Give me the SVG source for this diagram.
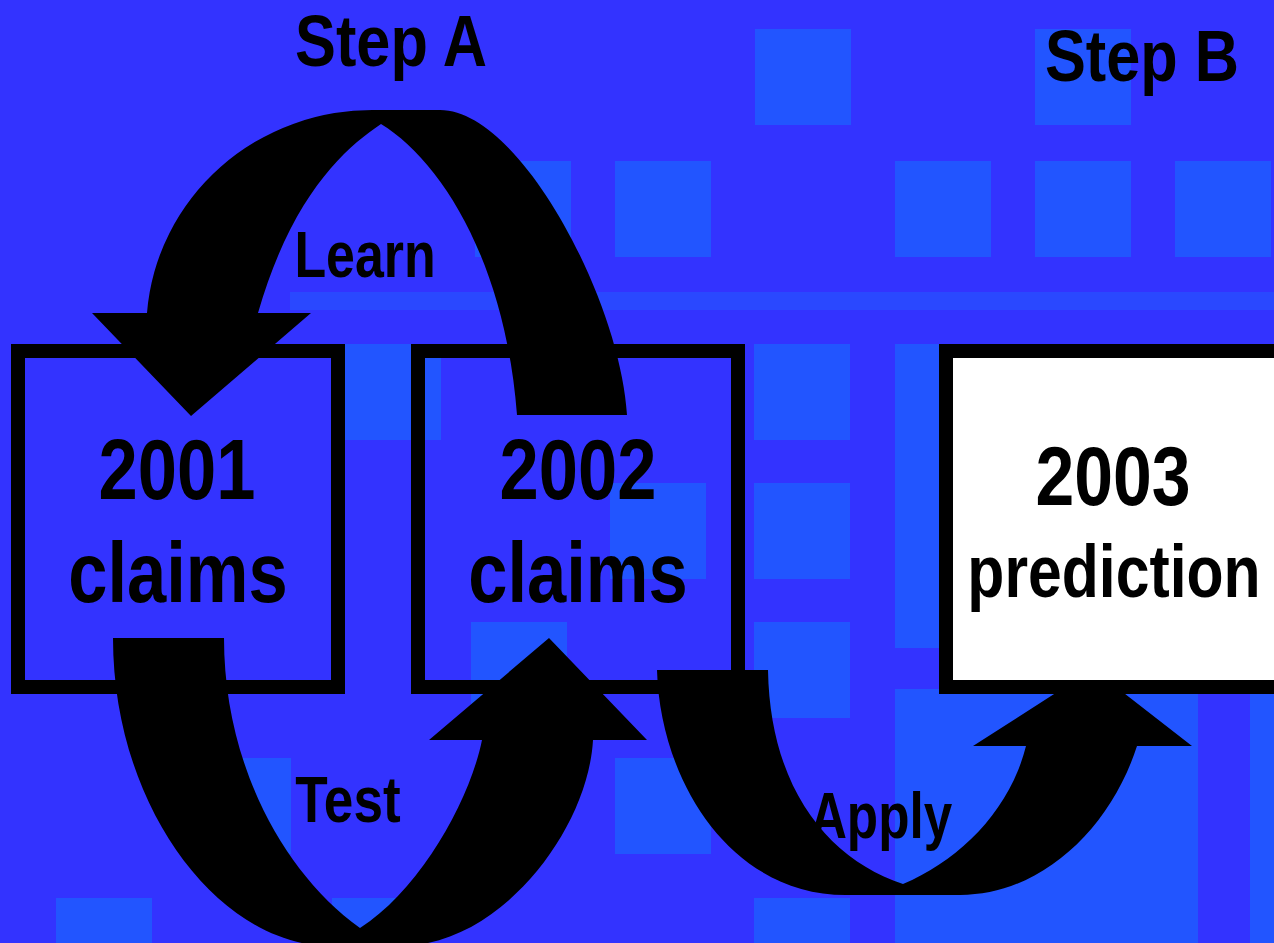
<svg xmlns="http://www.w3.org/2000/svg" width="1274" height="943" viewBox="0 0 1274 943">
<defs>
<style>
.bg{fill:#3333FF}
.sq{fill:#2255FF}
.stripe{fill:#2A48FF}
.box{fill:none;stroke:#000;stroke-width:14}
.box3{fill:#FFFFFF;stroke:#000;stroke-width:14}
.arrow{fill:#000;stroke:none}
text{font-family:"Liberation Sans",Arial,sans-serif;font-weight:bold;fill:#000;text-anchor:middle}
.big{font-size:86px}
.title{font-size:73px}
.lbl{font-size:64px}
</style>
</defs>
<g id="background">
<rect class="bg" x="0" y="0" width="1274" height="943"/>
<rect class="sq" x="755" y="29" width="96" height="96"/>
<rect class="sq" x="1035" y="29" width="96" height="96"/>
<rect class="sq" x="475" y="161" width="96" height="96"/>
<rect class="sq" x="615" y="161" width="96" height="96"/>
<rect class="sq" x="895" y="161" width="96" height="96"/>
<rect class="sq" x="1035" y="161" width="96" height="96"/>
<rect class="sq" x="1175" y="161" width="96" height="96"/>
<rect class="stripe" x="290" y="292" width="984" height="18"/>
<rect class="sq" x="345" y="344" width="96" height="96"/>
<rect class="sq" x="754" y="344" width="96" height="96"/>
<rect class="sq" x="895" y="344" width="60" height="304"/>
<rect class="sq" x="610" y="483" width="96" height="96"/>
<rect class="sq" x="754" y="483" width="96" height="96"/>
<rect class="sq" x="471" y="622" width="96" height="96"/>
<rect class="sq" x="754" y="622" width="96" height="96"/>
<rect class="sq" x="895" y="689" width="303" height="254"/>
<rect class="sq" x="1250" y="689" width="24" height="254"/>
<rect class="sq" x="195" y="758" width="96" height="96"/>
<rect class="sq" x="615" y="758" width="96" height="96"/>
<rect class="sq" x="56" y="898" width="96" height="45"/>
<rect class="sq" x="332" y="898" width="96" height="45"/>
<rect class="sq" x="754" y="898" width="96" height="45"/>
</g>
<g id="node-2001">
<rect class="box" x="18" y="351" width="320" height="336"/>
<g transform="translate(177,499) scale(0.82,1)"><text class="big" x="0" y="0">2001</text></g>
<g transform="translate(178,602) scale(0.82,1)"><text class="big" x="0" y="0">claims</text></g>
</g>
<g id="node-2002">
<rect class="box" x="418" y="351" width="320" height="336"/>
<g transform="translate(578,499) scale(0.82,1)"><text class="big" x="0" y="0">2002</text></g>
<g transform="translate(578,602) scale(0.82,1)"><text class="big" x="0" y="0">claims</text></g>
</g>
<g id="connectors">
<path id="arrow-learn" class="arrow" d="M 627 415 C 620 300 520 110 440 110 L 377 110 A 226 220 0 0 0 147 313 L 92 313 L 191 416 L 311 313 L 258 313 C 292 195 345 148 381 124 C 440 160 505 260 517 415 Z"/>
<path id="arrow-test" class="arrow" d="M 113 638 C 113 808 220 946 330 946 L 400 946 C 500 946 588 830 593 740 L 647 740 L 549 638 L 429 740 L 482 740 C 470 800 420 890 360 928 C 280 870 224 760 224 638 Z"/>
<path id="arrow-apply" class="arrow" d="M 657 670 C 660 780 730 895 846 895 L 960 895 C 1040 895 1110 830 1137 746 L 1192 746 L 1093 669 L 973 746 L 1026 746 C 1010 810 960 860 903 884 C 830 860 770 790 768 670 Z"/>
</g>
<g id="node-2003">
<rect class="box3" x="946" y="351" width="350" height="336"/>
<g transform="translate(1113,505) scale(0.83,1)"><text x="0" y="0" style="font-size:84px">2003</text></g>
<g transform="translate(1114,597) scale(0.82,1)"><text x="0" y="0" style="font-size:74px">prediction</text></g>
</g>
<g id="labels">
<g transform="translate(391,66) scale(0.84,1)"><text class="title" x="0" y="0">Step A</text></g>
<g transform="translate(1142,81) scale(0.84,1)"><text class="title" x="0" y="0">Step B</text></g>
<g transform="translate(365,277) scale(0.81,1)"><text class="lbl" x="0" y="0">Learn</text></g>
<g transform="translate(348,822) scale(0.83,1)"><text class="lbl" x="0" y="0">Test</text></g>
<g transform="translate(881,838) scale(0.8,1)"><text class="lbl" x="0" y="0">Apply</text></g>
</g>
</svg>
